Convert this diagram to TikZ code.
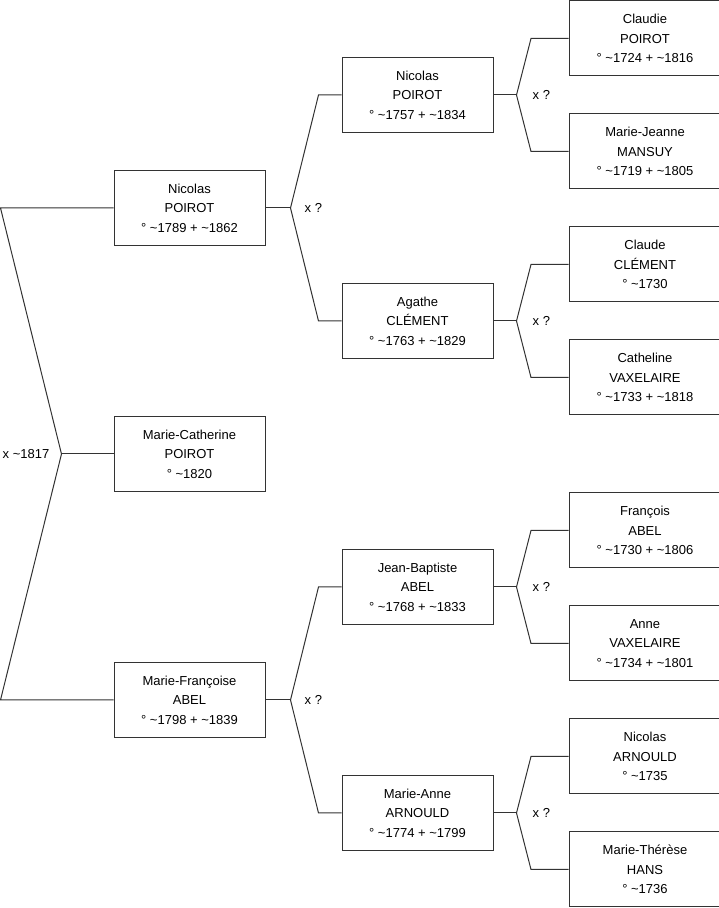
\documentclass[tikz,border=0pt]{standalone}
\usepackage{fontspec}
\setmainfont{Liberation Sans}
\usetikzlibrary{positioning,calc}

\begin{document}
\begin{tikzpicture}[
    node distance=170pt,
    box/.style={draw=black!80, line width=1pt, align=center, minimum width=151pt, minimum height=75pt, inner sep=0pt, font=\fontsize{13}{19.5}\selectfont},
    tbox/.style={box, minimum width=152pt},
    link/.style={draw=black!80, line width=1pt},
    tag/.style={inner sep=0pt, font=\fontsize{13}{15}\selectfont}
  ]
    \useasboundingbox (0,0) rectangle (719pt,908pt);

    \node[box] (kid) at (189.5pt,454pt) {Marie-Catherine\\POIROT\\° \textasciitilde1820};
    \node[box, above=of kid] (fa) {Nicolas\\POIROT\\° \textasciitilde1789 + \textasciitilde1862};
    \node[box, below=of kid] (mo) {Marie-Françoise\\ABEL\\° \textasciitilde1798 + \textasciitilde1839};

    \node[box, right=76pt of fa, yshift=113pt] (ff) {Nicolas\\POIROT\\° \textasciitilde1757 + \textasciitilde1834};
    \node[box, right=76pt of fa, yshift=-113pt] (fm) {Agathe\\CLÉMENT\\° \textasciitilde1763 + \textasciitilde1829};
    \node[box, right=76pt of mo, yshift=113pt] (mf) {Jean-Baptiste\\ABEL\\° \textasciitilde1768 + \textasciitilde1833};
    \node[box, right=76pt of mo, yshift=-113pt] (mm) {Marie-Anne\\ARNOULD\\° \textasciitilde1774 + \textasciitilde1799};

    \node[tbox, right=75pt of ff, yshift=56.5pt] (fff) {Claudie\\POIROT\\° \textasciitilde1724 + \textasciitilde1816};
    \node[tbox, right=75pt of ff, yshift=-56.5pt] (ffm) {Marie-Jeanne\\MANSUY\\° \textasciitilde1719 + \textasciitilde1805};
    \node[tbox, right=75pt of fm, yshift=56.5pt] (fmf) {Claude\\CLÉMENT\\° \textasciitilde1730};
    \node[tbox, right=75pt of fm, yshift=-56.5pt] (fmm) {Catheline\\VAXELAIRE\\° \textasciitilde1733 + \textasciitilde1818};
    \node[tbox, right=75pt of mf, yshift=56.5pt] (mff) {François\\ABEL\\° \textasciitilde1730 + \textasciitilde1806};
    \node[tbox, right=75pt of mf, yshift=-56.5pt] (mfm) {Anne\\VAXELAIRE\\° \textasciitilde1734 + \textasciitilde1801};
    \node[tbox, right=75pt of mm, yshift=56.5pt] (mmf) {Nicolas\\ARNOULD\\° \textasciitilde1735};
    \node[tbox, right=75pt of mm, yshift=-56.5pt] (mmm) {Marie-Thérèse\\HANS\\° \textasciitilde1736};

    \coordinate (k0) at ([xshift=-52pt]kid.west);
    \coordinate (fa0) at ([xshift=25pt]fa.east);
    \coordinate (mo0) at ([xshift=25pt]mo.east);
    \coordinate (ff0) at ([xshift=23pt]ff.east);
    \coordinate (fm0) at ([xshift=23pt]fm.east);
    \coordinate (mf0) at ([xshift=23pt]mf.east);
    \coordinate (mm0) at ([xshift=23pt]mm.east);

    \draw[link] (fa.west) -- ++(-113pt,0) -- (k0) -- ([xshift=-113pt]mo.west) -- (mo.west);
    \draw[link] (kid.west) -- (k0);
    \node[tag, left=12pt of k0] (k0t) {x \textasciitilde1817};

    \draw[link] (ff.west) -- ++(-23pt,0) -- (fa0) -- ([xshift=-23pt]fm.west) -- (fm.west);
    \draw[link] (fa.east) -- (fa0);
    \node[tag, right=14pt of fa0] (fa0t) {x ?};

    \draw[link] (mf.west) -- ++(-23pt,0) -- (mo0) -- ([xshift=-23pt]mm.west) -- (mm.west);
    \draw[link] (mo.east) -- (mo0);
    \node[tag, right=14pt of mo0] (mo0t) {x ?};

    \draw[link] (fff.west) -- ++(-37.5pt,0) -- (ff0) -- ([xshift=-37.5pt]ffm.west) -- (ffm.west);
    \draw[link] (ff.east) -- (ff0);
    \node[tag, right=16pt of ff0] (ff0t) {x ?};

    \draw[link] (fmf.west) -- ++(-37.5pt,0) -- (fm0) -- ([xshift=-37.5pt]fmm.west) -- (fmm.west);
    \draw[link] (fm.east) -- (fm0);
    \node[tag, right=16pt of fm0] (fm0t) {x ?};

    \draw[link] (mff.west) -- ++(-37.5pt,0) -- (mf0) -- ([xshift=-37.5pt]mfm.west) -- (mfm.west);
    \draw[link] (mf.east) -- (mf0);
    \node[tag, right=16pt of mf0] (mf0t) {x ?};

    \draw[link] (mmf.west) -- ++(-37.5pt,0) -- (mm0) -- ([xshift=-37.5pt]mmm.west) -- (mmm.west);
    \draw[link] (mm.east) -- (mm0);
    \node[tag, right=16pt of mm0] (mm0t) {x ?};
\end{tikzpicture}
\end{document}
